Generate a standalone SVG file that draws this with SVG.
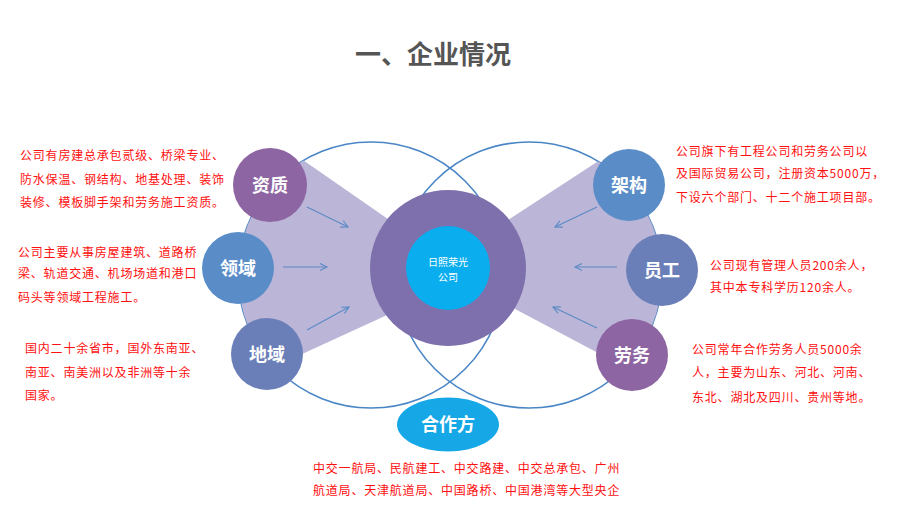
<svg xmlns="http://www.w3.org/2000/svg" width="900" height="506" viewBox="0 0 900 506">
<style>
.title{font-family:"Noto Sans CJK SC","Liberation Sans",sans-serif;font-size:26px;font-weight:bold;fill:#555555}
.lbl{font-family:"Noto Sans CJK SC","Liberation Sans",sans-serif;font-size:18px;font-weight:bold;fill:#ffffff;text-anchor:middle}
.ctr{font-family:"Noto Sans CJK SC","Liberation Sans",sans-serif;font-size:10px;fill:#ffffff;text-anchor:middle}
.red{font-family:"Noto Sans CJK SC","Liberation Sans",sans-serif;font-size:12px;fill:#ff1010;letter-spacing:0.8px}
.big{fill:none;stroke:#4a86c6;stroke-width:1.6}
.band{fill:#bbb5d7}
.arr{stroke:#5a8ac6;stroke-width:1.1;fill:none;marker-end:url(#ah)}
</style>
<defs>
<marker id="ah" markerWidth="10" markerHeight="10" refX="8" refY="5" orient="auto" markerUnits="userSpaceOnUse">
<path d="M1,1.5 L8,5 L1,8.5" fill="none" stroke="#5a8ac6" stroke-width="1.1"/>
</marker>
<clipPath id="cl"><circle cx="371" cy="275" r="133"/></clipPath>
<clipPath id="cr"><circle cx="529" cy="275" r="133"/></clipPath>
</defs>
<rect width="900" height="506" fill="#ffffff"/>
<text class="title" x="355" y="64">一、企业情况</text>

<g id="backdrop">
<circle class="big" cx="371" cy="275" r="133"/>
<circle class="big" cx="529" cy="275" r="133"/>
<polygon class="band" clip-path="url(#cl)" points="225,200 300,158 398,226 398,310 300,355 225,330"/>
<polygon class="band" clip-path="url(#cr)" points="675,200 600,160 502,224 502,302 600,354 675,330"/>
</g>

<g id="connectors">
<line class="arr" x1="307" y1="207" x2="348" y2="227"/>
<line class="arr" x1="283" y1="267" x2="327" y2="267"/>
<line class="arr" x1="307" y1="330" x2="349" y2="307"/>
<line class="arr" x1="597" y1="207" x2="555" y2="227"/>
<line class="arr" x1="617" y1="267" x2="575" y2="267"/>
<line class="arr" x1="597" y1="328" x2="553" y2="307"/>
</g>

<g id="center">
<circle cx="448" cy="268" r="78" fill="#7e6fad"/>
<circle cx="448" cy="268" r="42" fill="#0aaeee"/>
<text class="ctr" x="448" y="265.5">日照荣光</text>
<text class="ctr" x="448" y="281">公司</text>
</g>

<g id="zizhi">
<circle cx="270" cy="185" r="37" fill="#8d65a2"/>
<text class="lbl" x="270" y="191.5">资质</text>
</g>
<g id="lingyu">
<circle cx="238" cy="268" r="36" fill="#5a8dc8"/>
<text class="lbl" x="238" y="274.5">领域</text>
</g>
<g id="diyu">
<circle cx="267" cy="354" r="36" fill="#6a7fb8"/>
<text class="lbl" x="267" y="360.5">地域</text>
</g>
<g id="jiagou">
<circle cx="629" cy="185" r="36" fill="#5a8dc8"/>
<text class="lbl" x="629" y="191.5">架构</text>
</g>
<g id="yuangong">
<circle cx="662" cy="270" r="36" fill="#6a7fb8"/>
<text class="lbl" x="662" y="276.5">员工</text>
</g>
<g id="laowu">
<circle cx="632" cy="355" r="36" fill="#8d65a2"/>
<text class="lbl" x="632" y="361.5">劳务</text>
</g>
<g id="hezuofang">
<ellipse cx="448" cy="424.5" rx="51" ry="27" fill="#16a8e6"/>
<text class="lbl" x="448" y="431">合作方</text>
</g>

<g id="texts">
<text class="red" x="20" y="159.5">公司有房建总承包贰级、桥梁专业、</text>
<text class="red" x="20" y="183.5">防水保温、钢结构、地基处理、装饰</text>
<text class="red" x="20" y="206.5">装修、模板脚手架和劳务施工资质。</text>

<text class="red" x="18" y="256.5">公司主要从事房屋建筑、道路桥</text>
<text class="red" x="18" y="277.5">梁、轨道交通、机场场道和港口</text>
<text class="red" x="18" y="301.5">码头等领域工程施工。</text>

<text class="red" x="25" y="352.5">国内二十余省市，国外东南亚、</text>
<text class="red" x="25" y="376.5">南亚、南美洲以及非洲等十余</text>
<text class="red" x="25" y="399.5">国家。</text>

<text class="red" x="676" y="155.5">公司旗下有工程公司和劳务公司以</text>
<text class="red" x="676" y="177.5">及国际贸易公司，注册资本5000万，</text>
<text class="red" x="676" y="201.5">下设六个部门、十二个施工项目部。</text>

<text class="red" x="710" y="269.5">公司现有管理人员200余人，</text>
<text class="red" x="710" y="291.5">其中本专科学历120余人。</text>

<text class="red" x="692" y="353.5">公司常年合作劳务人员5000余</text>
<text class="red" x="692" y="376.5">人，主要为山东、河北、河南、</text>
<text class="red" x="692" y="401.5">东北、湖北及四川、贵州等地。</text>

<text class="red" x="313" y="472.5">中交一航局、民航建工、中交路建、中交总承包、广州</text>
<text class="red" x="313" y="494.5">航道局、天津航道局、中国路桥、中国港湾等大型央企</text>
</g>
</svg>
